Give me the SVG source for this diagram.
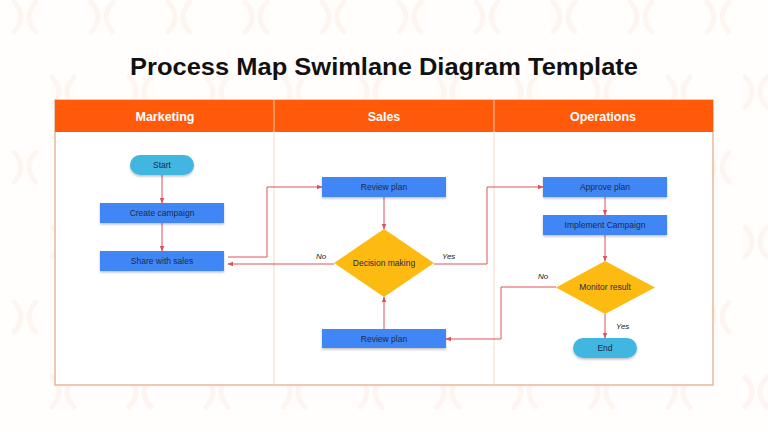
<svg xmlns="http://www.w3.org/2000/svg" width="768" height="432" viewBox="0 0 768 432">
<defs>
<pattern id="bg" x="0" y="0" width="154" height="150" patternUnits="userSpaceOnUse">
<g fill="none" stroke="#FEF5F1" stroke-width="5" stroke-linecap="round">
<path d="M14,2 Q28,17 14,32 M36,2 Q22,17 36,32"/>
<path d="M91,2 Q105,17 91,32 M113,2 Q99,17 113,32"/>
<path d="M52,77 Q66,92 52,107 M74,77 Q60,92 74,107"/>
<path d="M129,77 Q143,92 129,107 M151,77 Q137,92 151,107"/>
</g>
</pattern>
<filter id="sh" x="-10%" y="-20%" width="120%" height="150%">
<feDropShadow dx="0" dy="1.5" stdDeviation="1.2" flood-color="#000" flood-opacity="0.25"/>
</filter>
<marker id="ar" viewBox="0 0 10 10" refX="9" refY="5" markerWidth="6" markerHeight="6" orient="auto" markerUnits="userSpaceOnUse">
<path d="M0,1 L10,5 L0,9 Z" fill="#E0505A"/>
</marker>
<style>
.hdr{font-family:"Liberation Sans",Arial,sans-serif;font-weight:bold;font-size:12.5px;fill:#fff;text-anchor:middle}
.box{fill:#3F87F5;filter:url(#sh)}
.pill{fill:#41B6E0;filter:url(#sh)}
.dia{fill:#FDBB11}
.t{font-family:"Liberation Sans",Arial,sans-serif;font-size:8.5px;fill:#1E2A48;text-anchor:middle;dominant-baseline:central}
.c{fill:none;stroke:#E0505A;stroke-width:1;marker-end:url(#ar)}
.lbl{font-family:"Liberation Sans",Arial,sans-serif;font-size:8px;font-style:italic;fill:#222}
</style>
</defs>
<rect width="768" height="432" fill="#FFFEFD"/>
<rect width="768" height="432" fill="url(#bg)"/>
<text x="384" y="75" font-family="Liberation Sans,Arial,sans-serif" font-weight="bold" font-size="24" fill="#111" text-anchor="middle" textLength="508" lengthAdjust="spacingAndGlyphs">Process Map Swimlane Diagram Template</text>

<g id="swimlanes">
<rect x="55" y="100" width="658" height="285" fill="#fff" stroke="#E8B89A" stroke-width="1.5"/>
<rect x="55" y="100" width="658" height="32" fill="#FF5A0A"/>
<line x1="274" y1="100" x2="274" y2="385" stroke="#F4D6C6" stroke-width="1"/>
<line x1="494" y1="100" x2="494" y2="385" stroke="#F4D6C6" stroke-width="1"/>
<line x1="274" y1="100" x2="274" y2="132" stroke="#FF8A50" stroke-width="1"/>
<line x1="494" y1="100" x2="494" y2="132" stroke="#FF8A50" stroke-width="1"/>
<text class="hdr" x="165" y="121">Marketing</text>
<text class="hdr" x="384" y="121">Sales</text>
<text class="hdr" x="603" y="121">Operations</text>
</g>

<g id="connectors">
<path class="c" d="M162,175 V203"/>
<path class="c" d="M162,223 V251"/>
<path class="c" d="M228,257 H267 V187 H322"/>
<path class="c" d="M334,264 H228"/>
<path class="c" d="M384,197 V229"/>
<path class="c" d="M434,264 H487 V187 H543"/>
<path class="c" d="M605,197 V215"/>
<path class="c" d="M605,235 V261"/>
<path class="c" d="M556,287 H501 V339 H446"/>
<path class="c" d="M605,314 V338"/>
<path class="c" d="M384,329 V297"/>
<text class="lbl" x="316" y="259">No</text>
<text class="lbl" x="442" y="259">Yes</text>
<text class="lbl" x="538" y="279">No</text>
<text class="lbl" x="616" y="329">Yes</text>
</g>

<g id="start"><rect class="pill" x="130" y="155" width="64" height="20" rx="10"/><text class="t" x="162" y="165">Start</text></g>
<g id="create-campaign"><rect class="box" x="100" y="203" width="124" height="20"/><text class="t" x="162" y="213">Create campaign</text></g>
<g id="share-with-sales"><rect class="box" x="100" y="251" width="124" height="20"/><text class="t" x="162" y="261">Share with sales</text></g>
<g id="review-plan-1"><rect class="box" x="322" y="177" width="124" height="20"/><text class="t" x="384" y="187">Review plan</text></g>
<g id="decision-making"><path class="dia" d="M384,229 L434,263 L384,297 L334,263 Z"/><text class="t" x="384" y="263">Decision making</text></g>
<g id="review-plan-2"><rect class="box" x="322" y="329" width="124" height="19"/><text class="t" x="384" y="338.5">Review plan</text></g>
<g id="approve-plan"><rect class="box" x="543" y="177" width="124" height="20"/><text class="t" x="605" y="187">Approve plan</text></g>
<g id="implement-campaign"><rect class="box" x="543" y="215" width="124" height="20"/><text class="t" x="605" y="225">Implement Campaign</text></g>
<g id="monitor-result"><path class="dia" d="M605,261 L655,287.5 L605,314 L556,287.5 Z"/><text class="t" x="605" y="287">Monitor result</text></g>
<g id="end"><rect class="pill" x="573" y="338" width="64" height="20" rx="10"/><text class="t" x="605" y="348">End</text></g>
</svg>
